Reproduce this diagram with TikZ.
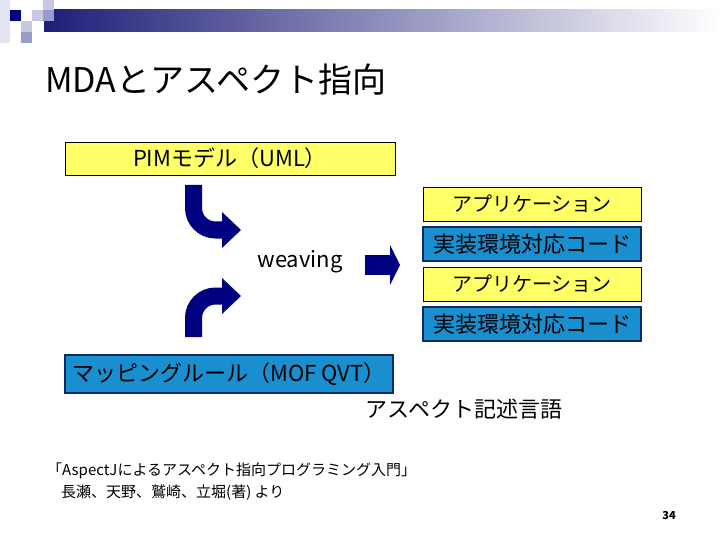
\documentclass[tikz,border=0pt]{standalone}
\usepackage{fontspec}
\setmainfont{Noto Sans CJK JP}
\usetikzlibrary{arrows.meta, positioning}
\definecolor{navy}{HTML}{000080}
\definecolor{barnavy}{HTML}{1E1E78}
\definecolor{lavender}{HTML}{C8C8E4}
\definecolor{midlav}{HTML}{9A9ACC}
\definecolor{paleyellow}{HTML}{FFFF66}
\definecolor{codeblue}{HTML}{1A8FCF}
\definecolor{boxedge}{HTML}{0B2C5C}

\begin{document}
\begin{tikzpicture}[x=1pt, y=-1pt,
    modelbox/.style={draw=black, line width=0.8pt, fill=paleyellow, inner sep=0pt,
      minimum height=34pt, font=\fontsize{20pt}{24pt}\selectfont},
    rulebox/.style={draw=boxedge, line width=1.2pt, fill=codeblue, inner sep=0pt,
      minimum height=34pt, font=\fontsize{22pt}{26pt}\selectfont},
    bentarrow/.style={draw=navy, line width=17pt, rounded corners=22pt,
      -{Triangle[length=19pt, width=36pt, line width=0pt]}},
    blockarrow/.style={draw=navy, line width=20pt,
      -{Triangle[length=10pt, width=40pt, line width=0pt]}}]
  \useasboundingbox (0,0) rectangle (720,540);
  % Header bar
  \shade[left color=barnavy, right color=white] (44,10) rectangle (720,32);
  \fill[lavender!50] (0,0) rectangle (10,43);
  \fill[lavender] (43,0) rectangle (54,10);
  \fill[navy] (10,10) rectangle (21,21);
  \fill[lavender] (32,10) rectangle (43,21);
  \fill[midlav] (43,10) rectangle (54,21);
  \fill[lavender] (21,21) rectangle (32,32);
  \fill[midlav] (21,32) rectangle (32,43);
  \node[anchor=west, inner sep=0pt, font=\fontsize{34pt}{40pt}\selectfont]
    (title) at (45,80) {MDAとアスペクト指向};

  % Models
  \node[modelbox, minimum width=330pt, minimum height=33pt,
        font=\fontsize{22pt}{26pt}\selectfont] (pim) at (230,158.5)
    {PIMモデル（UML）};
  \node[rulebox, minimum width=328pt, minimum height=38pt] (mapping) at (229,374)
    {マッピングルール（MOF QVT）};

  % Generated code stack
  \node[modelbox, minimum width=218pt] (app1) at (532,204) {アプリケーション};
  \node[rulebox, minimum width=218pt, below=5pt of app1] (code1) {実装環境対応コード};
  \node[modelbox, minimum width=218pt, below=5pt of code1] (app2) {アプリケーション};
  \node[rulebox, minimum width=218pt, below=5pt of app2] (code2) {実装環境対応コード};

  % Weaving
  \node[font=\fontsize{22pt}{26pt}\selectfont] (weaving) at (300,262) {weaving};
  \coordinate (pimout) at (193.5,185);
  \coordinate (mapout) at (193.5,337);
  \coordinate (weavein1) at (241,230);
  \coordinate (weavein2) at (241,296);
  \coordinate (weaveout) at (365,265);
  \coordinate (stackin) at (400,265);
  \draw[bentarrow] (pimout) |- (weavein1);
  \draw[bentarrow] (mapout) |- (weavein2);
  \draw[blockarrow] (weaveout) -- (stackin);

  % Labels
  \node[font=\fontsize{22pt}{26pt}\selectfont] (aspectlang) at (464,409)
    {アスペクト記述言語};
  \node[anchor=west, inner sep=0pt, font=\fontsize{15pt}{18pt}\selectfont]
    (cite1) at (47,471) {「AspectJによるアスペクト指向プログラミング入門」};
  \node[anchor=west, inner sep=0pt, font=\fontsize{15pt}{18pt}\selectfont]
    (cite2) at (61,493) {長瀬、天野、鷲崎、立堀(著)\ より};
  \node[font=\fontsize{11pt}{13pt}\selectfont\bfseries] (pagenum) at (669,516) {34};
\end{tikzpicture}
\end{document}
